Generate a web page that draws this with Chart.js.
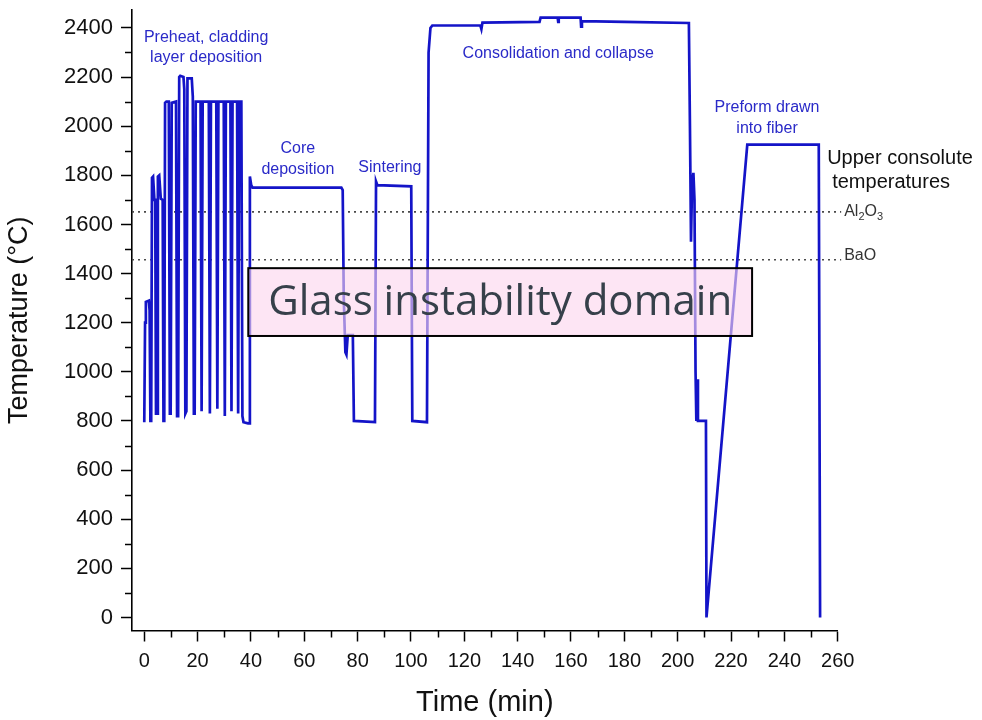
<!DOCTYPE html>
<html>
<head>
<meta charset="utf-8">
<script src="https://cdn.jsdelivr.net/npm/chart.js@4.4.1/dist/chart.umd.min.js"></script>
<style>
html,body{margin:0;padding:0;background:#fff;}
#wrap{position:relative;width:982px;height:720px;}
</style>
</head>
<body>
<div id="wrap"><canvas id="c" width="982" height="720"></canvas></div>
<script>
// ---- data ----
const timeMin = [
  0, 0.3, 0.6, 1.7, 2.0, 2.3, 2.6,
  2.9, 3.3, 3.8, 4.1, 4.4, 4.8, 5.1, 5.6, 6.2, 6.9, 7.2, 7.5,
  7.8, 8.3, 9.2, 9.6, 9.9, 10.3, 11.9, 12.3, 12.7,
  13.1, 13.5, 14.7, 15.0, 15.4, 15.8, 16.2, 17.8, 18.2, 18.6, 18.9,
  19.3, 21.1, 21.5, 21.9, 24.2, 24.6, 25.0, 27.0, 27.4, 27.8, 29.8, 30.2, 30.6,
  32.3, 32.7, 33.1, 34.8, 35.2, 35.6, 36.4, 36.8, 37.2, 38.9, 39.3,
  39.6, 40.1, 40.6, 73.9, 74.4, 74.8, 75.4, 75.8, 76.3, 78.2, 78.6,
  86.5, 86.9, 87.4, 100.1, 100.5, 106.0, 106.6, 107.3, 108.0,
  126.0, 126.4, 126.8, 148.2, 148.6, 155.0, 155.2, 155.4, 163.6, 163.8, 164.1, 180.0, 204.2,
  204.6, 205.0, 205.4, 205.9, 206.3, 206.7, 207.0, 207.3, 207.6, 210.6, 210.8,
  226.1, 252.9, 253.4
];
const temperatureC = [
  795, 1200, 1285, 1290, 1250, 800, 800,
  1790, 1795, 1700, 1700, 830, 830, 1795, 1800, 1705, 1700, 800, 800,
  2095, 2100, 2100, 830, 830, 2095, 2100, 820, 820,
  2200, 2205, 2200, 2150, 830, 840, 2195, 2195, 2120, 830, 830,
  2100, 2100, 840, 2100, 2100, 830, 2100, 2100, 850, 2100, 2100, 820, 2100,
  2100, 840, 2100, 2100, 830, 2100, 2100, 820, 795, 790, 790,
  1795, 1760, 1750, 1750, 1740, 1300, 1080, 1070, 1150, 1150, 800,
  795, 1775, 1760, 1755, 800, 795, 2300, 2400, 2410,
  2410, 2395, 2422, 2425, 2442, 2442, 2425, 2442, 2442, 2405, 2428, 2425, 2420,
  2000, 1530, 1770, 1810, 1700, 1000, 800, 970, 800, 800, 0,
  1925, 1925, 0
];
const xTickValues = [0, 20, 40, 60, 80, 100, 120, 140, 160, 180, 200, 220, 240, 260];
const yTickValues = [0, 200, 400, 600, 800, 1000, 1200, 1400, 1600, 1800, 2000, 2200, 2400];
const xMinorTicks = [10, 30, 50, 70, 90, 110, 130, 150, 170, 190, 210, 230, 250];
const yMinorTicks = [100, 300, 500, 700, 900, 1100, 1300, 1500, 1700, 1900, 2100, 2300];
const consoluteNames = ['Al2O3', 'BaO'];
const consoluteTemps = [1651, 1456];
const consoluteSpan = [-4.6, 261.3];
const domainLabel = 'Glass instability domain';
const domainTime = [39.0, 227.9];
const domainTemp = [1146, 1422];
const stageLabels = [
  ['Preheat, cladding', 'layer deposition'],
  ['Core', 'deposition'],
  ['Sintering'],
  ['Consolidation and collapse'],
  ['Preform drawn', 'into fiber']
];

// ---- build datasets ----
const curve = timeMin.map((t, i) => ({x: t, y: temperatureC[i]}));
const refLines = consoluteTemps.map((T, i) => ({
  label: consoluteNames[i],
  data: consoluteSpan.map(t => ({x: t, y: T})),
  showLine: true, borderColor: '#4a4a4a', borderWidth: 1.6, borderDash: [2, 4],
  pointRadius: 0, clip: false, order: 2
}));

const BLUE = '#1414c8';

// stage label placement (anchor in data units, line height in px)
const stagePos = [
  {t: 23.2, T: 2318, lh: 20},
  {t: 57.6, T: 1865, lh: 21},
  {t: 92.1, T: 1830, lh: 20},
  {t: 155.2, T: 2296, lh: 20},
  {t: 233.5, T: 2034, lh: 21}
];

const overlay = {
  id: 'overlay',
  afterDatasetsDraw(chart) {
    const {ctx, scales: {x, y}, chartArea} = chart;
    ctx.save();
    // minor ticks
    ctx.strokeStyle = '#000';
    ctx.lineWidth = 1.5;
    xMinorTicks.forEach(v => {
      const px = Math.round(x.getPixelForValue(v)) + 0.5;
      ctx.beginPath(); ctx.moveTo(px, chartArea.bottom); ctx.lineTo(px, chartArea.bottom + 7); ctx.stroke();
    });
    yMinorTicks.forEach(v => {
      const py = Math.round(y.getPixelForValue(v)) + 0.5;
      ctx.beginPath(); ctx.moveTo(chartArea.left - 7, py); ctx.lineTo(chartArea.left, py); ctx.stroke();
    });
    // glass instability box
    const x0 = x.getPixelForValue(domainTime[0]), x1 = x.getPixelForValue(domainTime[1]);
    const y0 = y.getPixelForValue(domainTemp[1]), y1 = y.getPixelForValue(domainTemp[0]);
    ctx.fillStyle = 'rgba(252,213,237,0.62)';
    ctx.fillRect(x0, y0, x1 - x0, y1 - y0);
    ctx.strokeStyle = '#000';
    ctx.lineWidth = 2;
    ctx.strokeRect(x0, y0, x1 - x0, y1 - y0);
    ctx.fillStyle = '#36404a';
    ctx.font = '42px "Open Sans"';
    ctx.textAlign = 'center';
    ctx.textBaseline = 'middle';
    ctx.fillText(domainLabel, (x0 + x1) / 2, (y0 + y1) / 2 + 1);
    // stage labels
    ctx.fillStyle = '#2a2ac8';
    ctx.font = '16px "Liberation Sans", Arial, sans-serif';
    stageLabels.forEach((lines, i) => {
      const p = stagePos[i];
      const cx = x.getPixelForValue(p.t), cy = y.getPixelForValue(p.T);
      lines.forEach((s, k) => ctx.fillText(s, cx, cy + (k - (lines.length - 1) / 2) * p.lh));
    });
    // consolute labels
    const ax = x.getPixelForValue(261.3) + 3;
    ctx.fillStyle = '#111';
    ctx.textAlign = 'left';
    ctx.font = '20px "Liberation Sans", Arial, sans-serif';
    ctx.fillText('Upper consolute', ax - 17, y.getPixelForValue(1868));
    ctx.fillText('temperatures', ax - 12, y.getPixelForValue(1770));
    ctx.fillStyle = '#333';
    let py = y.getPixelForValue(consoluteTemps[0]);
    let cx = ax;
    const parts = [['Al', false], ['2', true], ['O', false], ['3', true]];
    parts.forEach(([s, isSub]) => {
      ctx.font = (isSub ? '11px' : '16px') + ' "Liberation Sans", Arial, sans-serif';
      ctx.fillText(s, cx, py + (isSub ? 5 : 0));
      cx += ctx.measureText(s).width;
    });
    ctx.font = '16px "Liberation Sans", Arial, sans-serif';
    ctx.fillText('BaO', ax, y.getPixelForValue(consoluteTemps[1]) - 4);
    ctx.restore();
  }
};

const axisFont = '"Liberation Sans", Arial, sans-serif';
new Chart(document.getElementById('c'), {
  type: 'scatter',
  data: {
    datasets: [
      {label: 'Temperature', data: curve, showLine: true, borderColor: BLUE, borderWidth: 2.7,
       pointRadius: 0, tension: 0, order: 1},
      ...refLines
    ]
  },
  options: {
    responsive: false,
    animation: false,
    devicePixelRatio: 1,
    layout: {padding: {left: 0, right: 144.3, top: 10, bottom: 0}},
    plugins: {legend: {display: false}, tooltip: {enabled: false}},
    scales: {
      x: {
        type: 'linear', min: -4.6, max: 260,
        afterBuildTicks: s => { s.ticks = xTickValues.map(v => ({value: v})); },
        afterFit: s => { s.height = 89.5; s.paddingLeft = 0; s.paddingRight = 0; },
        ticks: {color: '#111', font: {family: axisFont, size: 20}, padding: 8, maxRotation: 0,
                callback: v => String(v)},
        grid: {drawOnChartArea: false, drawTicks: true, tickLength: 11, tickColor: '#000', tickWidth: 1.5},
        border: {display: true, color: '#000', width: 1.6},
        title: {display: true, text: 'Time (min)', color: '#111', font: {family: axisFont, size: 29}, padding: {top: 4, bottom: 0}}
      },
      y: {
        type: 'linear', min: -53, max: 2473,
        afterBuildTicks: s => { s.ticks = yTickValues.map(v => ({value: v})); },
        afterFit: s => { s.width = 132; s.paddingTop = 0; s.paddingBottom = 0; },
        ticks: {color: '#111', font: {family: axisFont, size: 22}, padding: 8,
                callback: v => String(v)},
        grid: {drawOnChartArea: false, drawTicks: true, tickLength: 11, tickColor: '#000', tickWidth: 1.5},
        border: {display: true, color: '#000', width: 1.6},
        title: {display: true, text: 'Temperature (°C)', color: '#111', font: {family: axisFont, size: 27}, padding: {top: 3, bottom: 0}}
      }
    }
  },
  plugins: [overlay]
});
</script>
</body>
</html>
